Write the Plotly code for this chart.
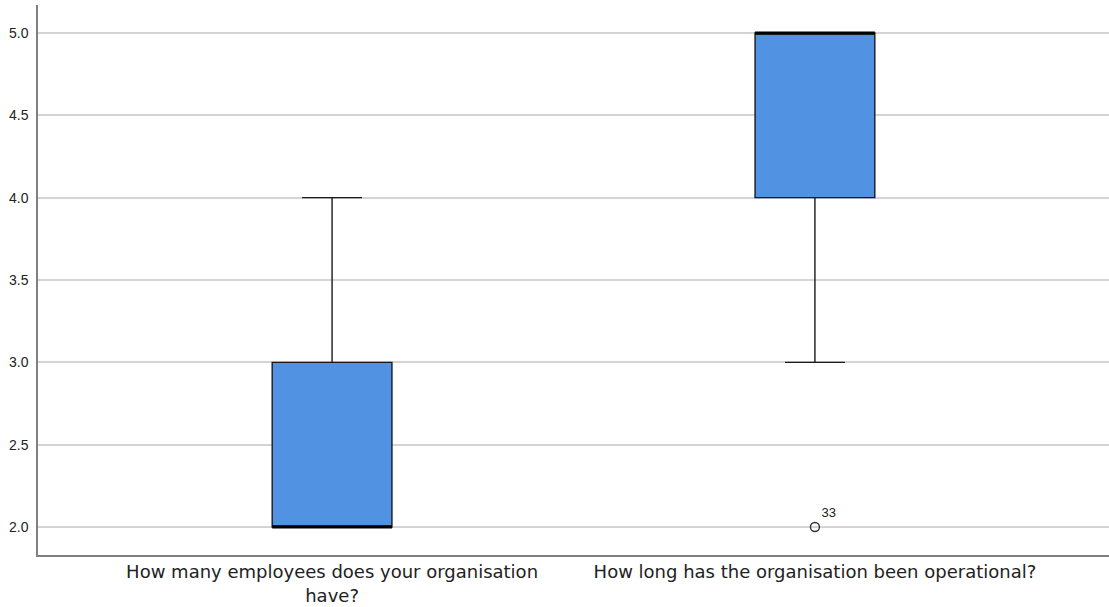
import plotly.graph_objects as go

# Survey items (one box per question)
categories = [
    "How many employees does your organisation<br>have?",
    "How long has the organisation been operational?",
]

# Five-number summaries per item
lower_fence = [2, 3]
q1 = [2, 4]
median = [2, 5]
q3 = [3, 5]
upper_fence = [4, 5]

# Outlying responses: (item index, value, case id)
outlier_item = [1]
outlier_value = [2]
outlier_case = ["33"]

y_ticks = [2.0, 2.5, 3.0, 3.5, 4.0, 4.5, 5.0]

BOX_WIDTH = 0.248
FILL = "#5292E2"
FONT = "Liberation Sans, Arial, sans-serif"
LABEL_FONT = "DejaVu Sans, Liberation Sans, sans-serif"

fig = go.Figure()

fig.add_trace(go.Box(
    x=categories,
    q1=q1,
    median=median,
    q3=q3,
    lowerfence=lower_fence,
    upperfence=upper_fence,
    width=BOX_WIDTH,
    whiskerwidth=0.5,
    fillcolor=FILL,
    line=dict(color="#1a1a1a", width=1.4),
    boxpoints=False,
    hoverinfo="skip",
    showlegend=False,
))

# Heavy median bars drawn across each box
for i, m in enumerate(median):
    fig.add_shape(
        type="line", xref="x", yref="y",
        x0=i - BOX_WIDTH / 2, x1=i + BOX_WIDTH / 2, y0=m, y1=m,
        line=dict(color="#000000", width=3),
    )

# Outliers with case labels
fig.add_trace(go.Scatter(
    x=[categories[i] for i in outlier_item],
    y=outlier_value,
    mode="markers+text",
    marker=dict(symbol="circle-open", size=9, color="#333333", line=dict(width=1.4)),
    text=outlier_case,
    textposition="top right",
    textfont=dict(family=FONT, size=13, color="#222222"),
    hoverinfo="skip",
    showlegend=False,
))

fig.update_layout(
    width=1109,
    height=607,
    margin=dict(l=38, r=0, t=5, b=52),
    plot_bgcolor="white",
    paper_bgcolor="white",
    font=dict(family=FONT, color="#222222"),
)

fig.update_xaxes(
    type="category",
    range=[-0.609, 1.609],
    automargin=False,
    showgrid=False,
    showline=True,
    linecolor="#808080",
    linewidth=1.5,
    ticks="",
    ticklabelstandoff=0,
    tickfont=dict(family=LABEL_FONT, size=18, color="#222222"),
    zeroline=False,
)

fig.update_yaxes(
    range=[1.83, 5.17],
    automargin=False,
    tickvals=y_ticks,
    ticktext=[f"{v:.1f}" for v in y_ticks],
    showgrid=True,
    gridcolor="#d4d4d4",
    gridwidth=1.5,
    showline=True,
    linecolor="#808080",
    linewidth=1.5,
    ticks="",
    ticklabelstandoff=5,
    tickfont=dict(family=FONT, size=14, color="#222222"),
    zeroline=False,
)

fig.write_html("out.html")
